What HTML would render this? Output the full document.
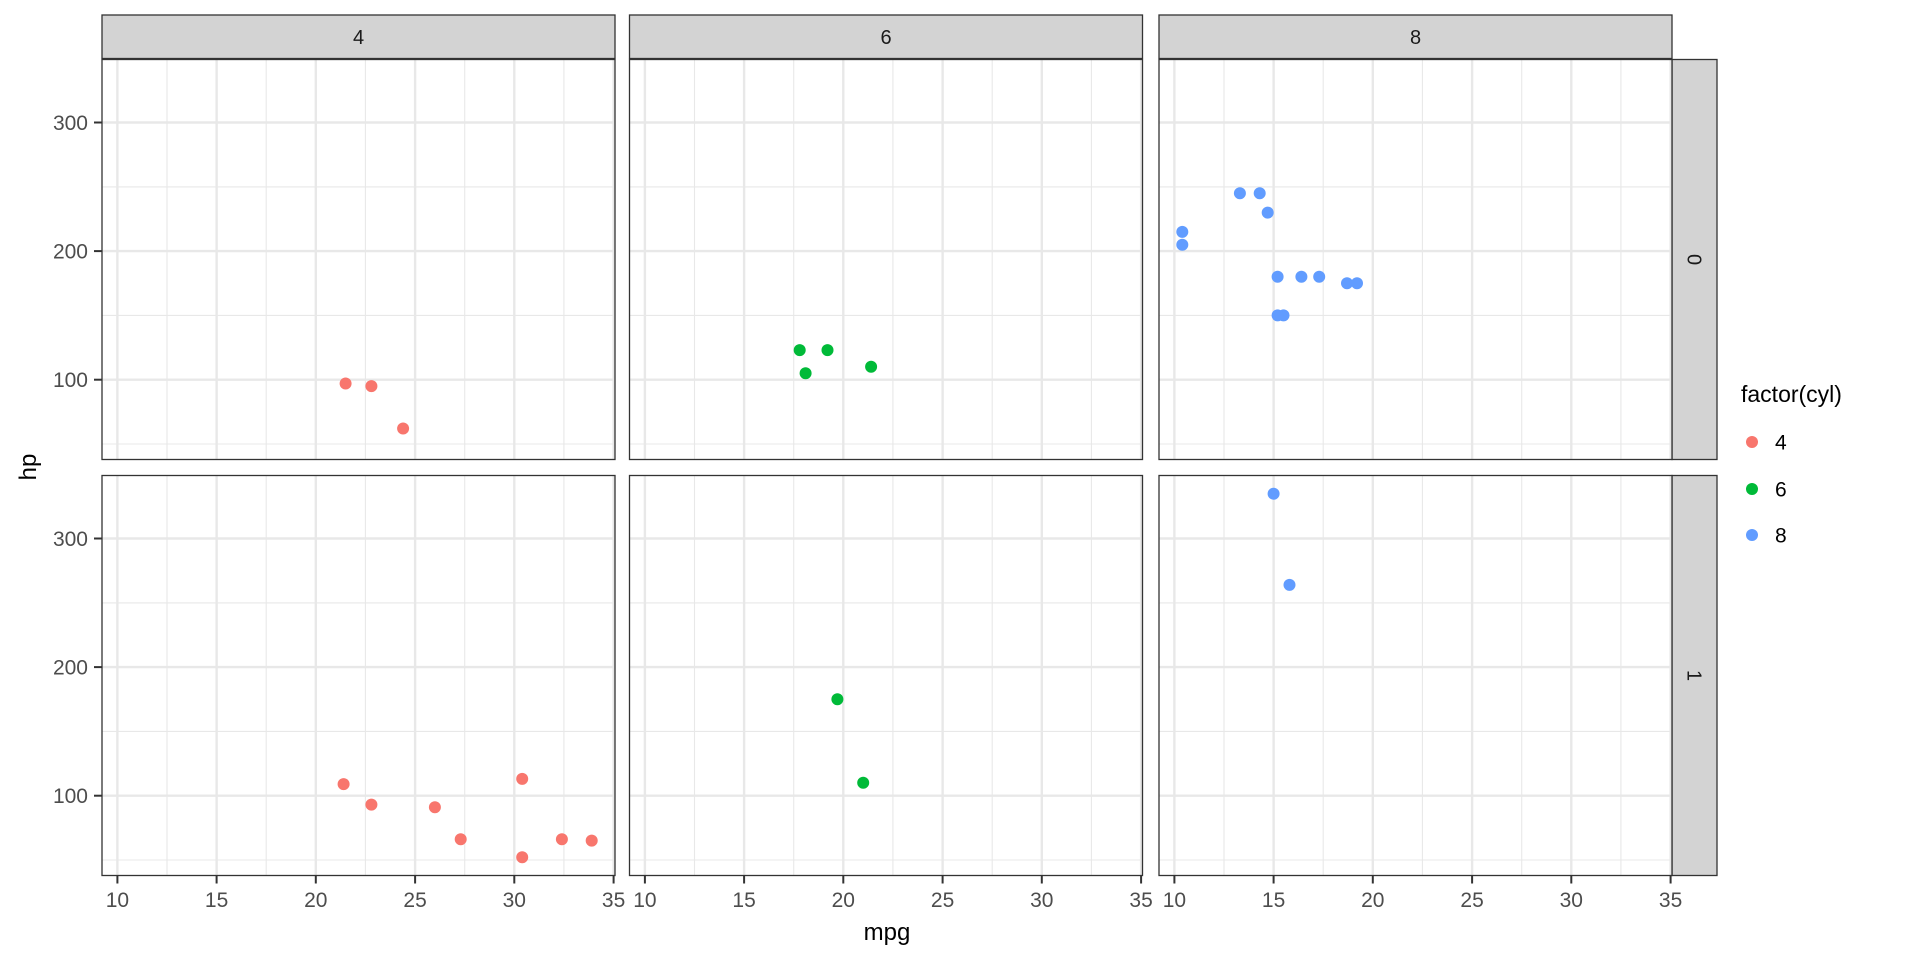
<!DOCTYPE html>
<html><head><meta charset="utf-8"><style>html,body{margin:0;padding:0;background:#fff}svg{display:block}</style></head>
<body>
<svg width="1920" height="960" viewBox="0 0 1920 960" xmlns="http://www.w3.org/2000/svg" font-family="Liberation Sans, sans-serif">
<defs>
<g id="pbg">
<rect x="0" y="0" width="513" height="400" fill="#fff"/>
<g stroke="#E8E8E8" stroke-width="1.1">
<line x1="65" y1="0" x2="65" y2="400"/><line x1="164.2" y1="0" x2="164.2" y2="400"/><line x1="263.4" y1="0" x2="263.4" y2="400"/><line x1="362.7" y1="0" x2="362.7" y2="400"/><line x1="461.9" y1="0" x2="461.9" y2="400"/>
<line x1="0" y1="127.4" x2="513" y2="127.4"/><line x1="0" y1="255.9" x2="513" y2="255.9"/><line x1="0" y1="384.5" x2="513" y2="384.5"/>
</g>
<g stroke="#E8E8E8" stroke-width="2.4">
<line x1="15.4" y1="0" x2="15.4" y2="400"/><line x1="114.6" y1="0" x2="114.6" y2="400"/><line x1="213.8" y1="0" x2="213.8" y2="400"/><line x1="313.1" y1="0" x2="313.1" y2="400"/><line x1="412.3" y1="0" x2="412.3" y2="400"/><line x1="511.6" y1="0" x2="511.6" y2="400"/>
<line x1="0" y1="63" x2="513" y2="63"/><line x1="0" y1="191.6" x2="513" y2="191.6"/><line x1="0" y1="320.2" x2="513" y2="320.2"/>
</g>
</g>
<g id="xticks" stroke="#333" stroke-width="2">
<line x1="15.4" y1="0" x2="15.4" y2="8"/><line x1="114.6" y1="0" x2="114.6" y2="8"/><line x1="213.8" y1="0" x2="213.8" y2="8"/><line x1="313.1" y1="0" x2="313.1" y2="8"/><line x1="412.3" y1="0" x2="412.3" y2="8"/><line x1="511.6" y1="0" x2="511.6" y2="8"/>
</g>
<g id="yticks" stroke="#333" stroke-width="2">
<line x1="-8" y1="63" x2="0" y2="63"/><line x1="-8" y1="191.6" x2="0" y2="191.6"/><line x1="-8" y1="320.2" x2="0" y2="320.2"/>
</g>
</defs>

<g fill="#D3D3D3" stroke="#333" stroke-width="1.3">
<rect x="102" y="15" width="513" height="43.5"/>
<rect x="629.5" y="15" width="513" height="43.5"/>
<rect x="1159" y="15" width="513" height="43.5"/>
<rect x="1672" y="59.5" width="45" height="400"/>
<rect x="1672" y="475.5" width="45" height="400"/>
</g>
<g font-size="20" fill="#1A1A1A" text-anchor="middle">
<text x="358.5" y="44">4</text>
<text x="886" y="44">6</text>
<text x="1415.5" y="44">8</text>
<text transform="translate(1687.5,259.5) rotate(90)" y="0">0</text>
<text transform="translate(1687.5,675.5) rotate(90)" y="0">1</text>
</g>

<g transform="translate(102,59.5)"><use href="#pbg"/>
<g fill="#F8766D"><circle cx="243.6" cy="324" r="6"/><circle cx="269.4" cy="326.6" r="6"/><circle cx="301.1" cy="369" r="6"/></g>
<rect width="513" height="400" fill="none" stroke="#333" stroke-width="1.3"/><use href="#yticks"/></g>

<g transform="translate(629.5,59.5)"><use href="#pbg"/>
<g fill="#00BA38"><circle cx="241.6" cy="307.3" r="6"/><circle cx="176.1" cy="313.7" r="6"/><circle cx="198" cy="290.6" r="6"/><circle cx="170.2" cy="290.6" r="6"/></g>
<rect width="513" height="400" fill="none" stroke="#333" stroke-width="1.3"/></g>

<g transform="translate(1159,59.5)"><use href="#pbg"/>
<g fill="#619CFF"><circle cx="188" cy="223.8" r="6"/><circle cx="100.7" cy="133.8" r="6"/><circle cx="142.4" cy="217.3" r="6"/><circle cx="160.2" cy="217.3" r="6"/><circle cx="118.6" cy="217.3" r="6"/><circle cx="23.3" cy="185.2" r="6"/><circle cx="23.3" cy="172.4" r="6"/><circle cx="108.7" cy="153.1" r="6"/><circle cx="124.5" cy="255.9" r="6"/><circle cx="118.6" cy="255.9" r="6"/><circle cx="80.9" cy="133.8" r="6"/><circle cx="198" cy="223.8" r="6"/></g>
<rect width="513" height="400" fill="none" stroke="#333" stroke-width="1.3"/></g>

<g transform="translate(102,475.5)"><use href="#pbg"/>
<g fill="#F8766D"><circle cx="269.4" cy="329.1" r="6"/><circle cx="459.9" cy="363.8" r="6"/><circle cx="420.2" cy="381.8" r="6"/><circle cx="489.7" cy="365.1" r="6"/><circle cx="358.7" cy="363.8" r="6"/><circle cx="332.9" cy="331.7" r="6"/><circle cx="420.2" cy="303.4" r="6"/><circle cx="241.6" cy="308.6" r="6"/></g>
<rect width="513" height="400" fill="none" stroke="#333" stroke-width="1.3"/><use href="#yticks"/><use href="#xticks" transform="translate(0,400)"/></g>

<g transform="translate(629.5,475.5)"><use href="#pbg"/>
<g fill="#00BA38"><circle cx="233.7" cy="307.3" r="6"/><circle cx="207.9" cy="223.8" r="6"/></g>
<rect width="513" height="400" fill="none" stroke="#333" stroke-width="1.3"/><use href="#xticks" transform="translate(0,400)"/></g>

<g transform="translate(1159,475.5)"><use href="#pbg"/>
<g fill="#619CFF"><circle cx="130.5" cy="109.4" r="6"/><circle cx="114.6" cy="18.2" r="6"/></g>
<rect width="513" height="400" fill="none" stroke="#333" stroke-width="1.3"/><use href="#xticks" transform="translate(0,400)"/></g>

<g font-size="21" fill="#4D4D4D" text-anchor="end">
<text x="88" y="130">300</text><text x="88" y="258.5">200</text><text x="88" y="387.2">100</text>
<text x="88" y="546">300</text><text x="88" y="674.5">200</text><text x="88" y="803.2">100</text>
</g>
<g font-size="21" fill="#4D4D4D" text-anchor="middle">
<text x="117.4" y="907">10</text><text x="216.6" y="907">15</text><text x="315.8" y="907">20</text><text x="415.1" y="907">25</text><text x="514.3" y="907">30</text><text x="613.6" y="907">35</text>
<text x="644.9" y="907">10</text><text x="744.1" y="907">15</text><text x="843.3" y="907">20</text><text x="942.6" y="907">25</text><text x="1041.8" y="907">30</text><text x="1141.1" y="907">35</text>
<text x="1174.4" y="907">10</text><text x="1273.6" y="907">15</text><text x="1372.8" y="907">20</text><text x="1472.1" y="907">25</text><text x="1571.3" y="907">30</text><text x="1670.6" y="907">35</text>
</g>
<text x="887" y="940" font-size="24" fill="#000" text-anchor="middle">mpg</text>
<text transform="translate(36,467) rotate(-90)" font-size="24" fill="#000" text-anchor="middle">hp</text>

<text x="1741" y="402" font-size="23" fill="#000">factor(cyl)</text>
<circle cx="1752" cy="442" r="6" fill="#F8766D"/>
<circle cx="1752" cy="489" r="6" fill="#00BA38"/>
<circle cx="1752" cy="535" r="6" fill="#619CFF"/>
<g font-size="21" fill="#000">
<text x="1775" y="449.5">4</text><text x="1775" y="496.5">6</text><text x="1775" y="542.5">8</text>
</g>
</svg>
</body></html>
